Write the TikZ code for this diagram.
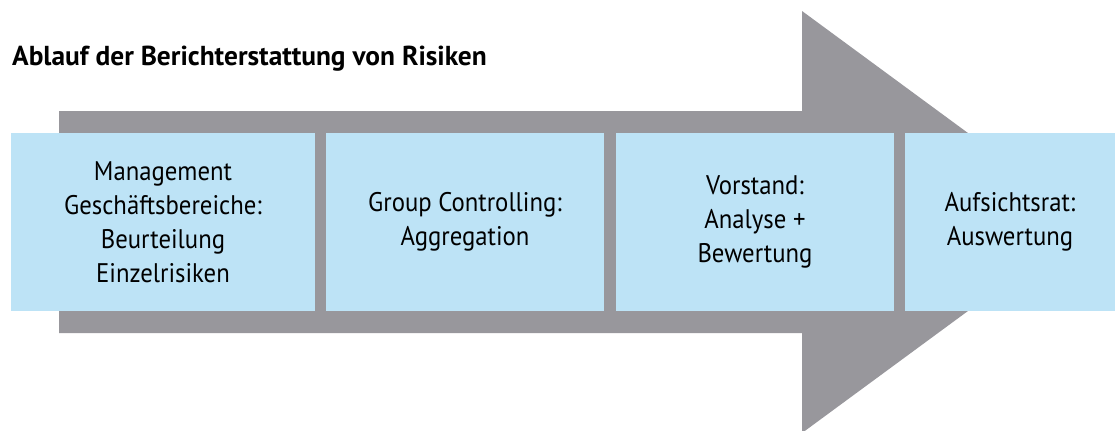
\documentclass[tikz,border=0pt]{standalone}
\usepackage{fontspec}
\setmainfont{PT Sans}[FakeStretch=0.92]
\newfontfamily\titlefont{PT Sans}
\definecolor{arrowgrey}{RGB}{152,151,156}
\definecolor{boxblue}{RGB}{189,227,246}
\tikzset{
  stage/.style={fill=boxblue, minimum height=178bp, align=center, inner sep=0pt,
    font=\fontsize{27}{34}\selectfont}
}

\begin{document}
\begin{tikzpicture}[x=1bp,y=-1bp]
\clip (0,0) rectangle (1117,430);
\fill[white] (0,0) rectangle (1117,430);
\fill[arrowgrey] (59,111)--(802,111)--(802,11)--(1089,222)--(802,433)--(802,333)--(59,333)--cycle;
\node (title) at (12,65) [anchor=base west, inner sep=0pt, font=\titlefont\fontsize{27.5}{30}\selectfont\bfseries] {Ablauf der Berichterstattung von Risiken};
\node (mgmt) at (163,222) [stage, minimum width=304bp] {Management\\Geschäftsbereiche:\\Beurteilung\\Einzelrisiken};
\node (ctrl) at (465,222) [stage, minimum width=278bp] {Group Controlling:\\Aggregation};
\node (vorst) at (755,222) [stage, minimum width=278bp] {Vorstand:\\Analyse +\\Bewertung};
\node (rat) at (1010,222) [stage, minimum width=210bp] {Aufsichtsrat:\\Auswertung};
\end{tikzpicture}
\end{document}
